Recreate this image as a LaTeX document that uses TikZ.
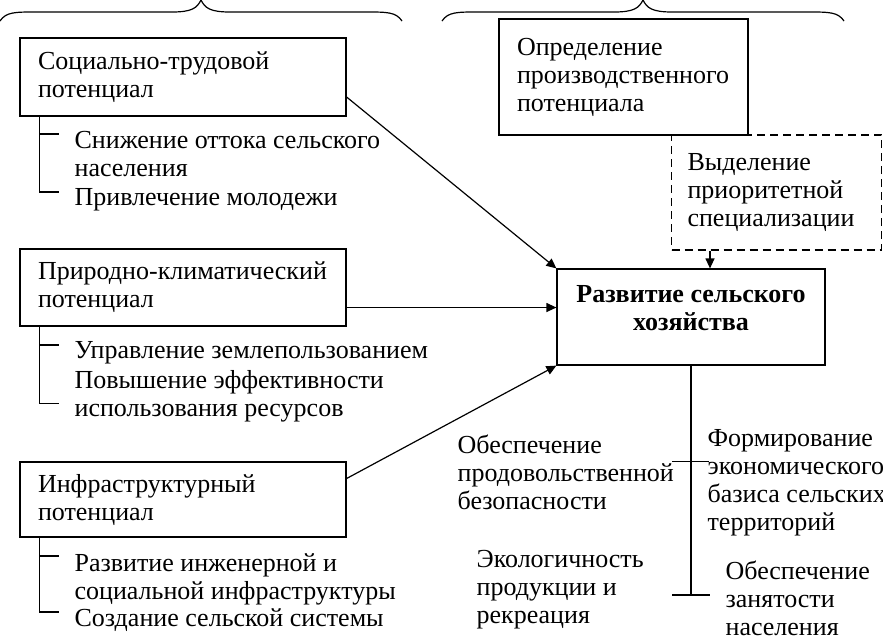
\documentclass[tikz,border=0pt]{standalone}
\usepackage{fontspec}
\setmainfont{Liberation Serif}
\usetikzlibrary{arrows.meta}
\begin{document}
\begin{tikzpicture}[x=0.5pt, y=-0.5pt, line width=0.6pt,
		every node/.style={font=\fontsize{13pt}{14pt}\selectfont},
		box/.style={draw, align=left, inner xsep=9pt, inner ysep=0pt},
		dashbox/.style={box, dash pattern=on 4pt off 2.5pt, inner xsep=8pt},
		mainbox/.style={draw, minimum width=134pt, minimum height=48pt},
		item/.style={anchor=north west, align=left, inner sep=0pt},
		arr/.style={-{Triangle[length=5pt,width=4.5pt]}}]
	\useasboundingbox (0,0) rectangle (883,639);

	% braces
	\draw (0,21) .. controls (6,12) and (15,12) .. (35,12) -- (172,12) .. controls (192,12) and (197,8) .. (201,0);
	\draw (201,0) .. controls (205,8) and (210,12) .. (230,12) -- (367,12) .. controls (387,12) and (396,12) .. (402,21);
	\draw (442,21) .. controls (448,12) and (457,12) .. (477,12) -- (614,12) .. controls (634,12) and (639,8) .. (643,0);
	\draw (643,0) .. controls (647,8) and (652,12) .. (672,12) -- (809,12) .. controls (829,12) and (838,12) .. (844,21);

	% potentials
	\node[box, text width=145pt, minimum height=39pt] (soc) at (183,77) {Социально-трудовой\\потенциал};
	\node[box, text width=145pt, minimum height=38.5pt] (nat) at (183,287.5) {Природно-климатический\\потенциал};
	\node[box, text width=145pt, minimum height=37.5pt] (inf) at (183,499.5) {Инфраструктурный\\потенциал};

	\node[item] (socA) at (74,131) {Снижение оттока сельского\\населения};
	\node[item] (socB) at (74,188) {Привлечение молодежи};
	\node[item] (natA) at (74,341) {Управление землепользованием};
	\node[item] (natB) at (74,370) {Повышение эффективности\\использования ресурсов};
	\node[item] (infA) at (74,553) {Развитие инженерной и\\социальной инфраструктуры};
	\node[item] (infB) at (74,608) {Создание сельской системы};

	\draw ([shift={(20,0)}]soc.south west) |- ([shift={(-15,4)}]socB.north west);
	\draw ([shift={(-35,3)}]socA.north west) -- ++(20,0);
	\draw ([shift={(20,0)}]nat.south west) |- ([shift={(-15,-19)}]natB.south west);
	\draw ([shift={(-35,4)}]natA.north west) -- ++(20,0);
	\draw ([shift={(20,0)}]inf.south west) |- ([shift={(-15,4)}]infB.north west);
	\draw ([shift={(-35,3)}]infA.north west) -- ++(20,0);

	% production
	\node[box, text width=106.5pt, minimum height=58pt] (prod) at (623.5,77) {Определение\\производственного\\потенциала};
	\node[dashbox, text width=89pt, minimum height=57.5pt] (spec) at (776.5,192.5) {Выделение\\приоритетной\\специализации};

	% agriculture
	\node[mainbox] (dev) at (691,317) {};
	\node[font=\fontsize{13pt}{14pt}\selectfont\bfseries, align=center] (devtext) at ([shift={(0,-9)}]dev.center) {Развитие сельского\\хозяйства};

	\draw[arr] ([shift={(0,20)}]soc.east) -- (dev.north west);
	\draw[arr] ([shift={(0,20)}]nat.east) coordinate (natout) -- (natout -| dev.west);
	\draw[arr] ([shift={(0,-21)}]inf.east) -- (dev.south west);
	\draw[arr] ([shift={(-66.5,0)}]spec.south) coordinate (specout) -- (specout |- dev.north);

	% results
	\coordinate (stemend) at (691,595);
	\draw (dev.south) -- (stemend);
	\draw ([shift={(-19,96)}]dev.south) -- ++(37,0);
	\draw ([shift={(-19,0)}]stemend) -- ++(38,0);

	\node[item] (food) at (457,434) {Обеспечение\\продовольственной\\безопасности};
	\node[item] (econ) at (707,429) {Формирование\\экономического\\базиса сельских\\территорий};
	\node[item] (eco) at (476,550) {Экологичность\\продукции и\\рекреация};
	\node[item] (empl) at (725,560) {Обеспечение\\занятости\\населения};
\end{tikzpicture}
\end{document}
